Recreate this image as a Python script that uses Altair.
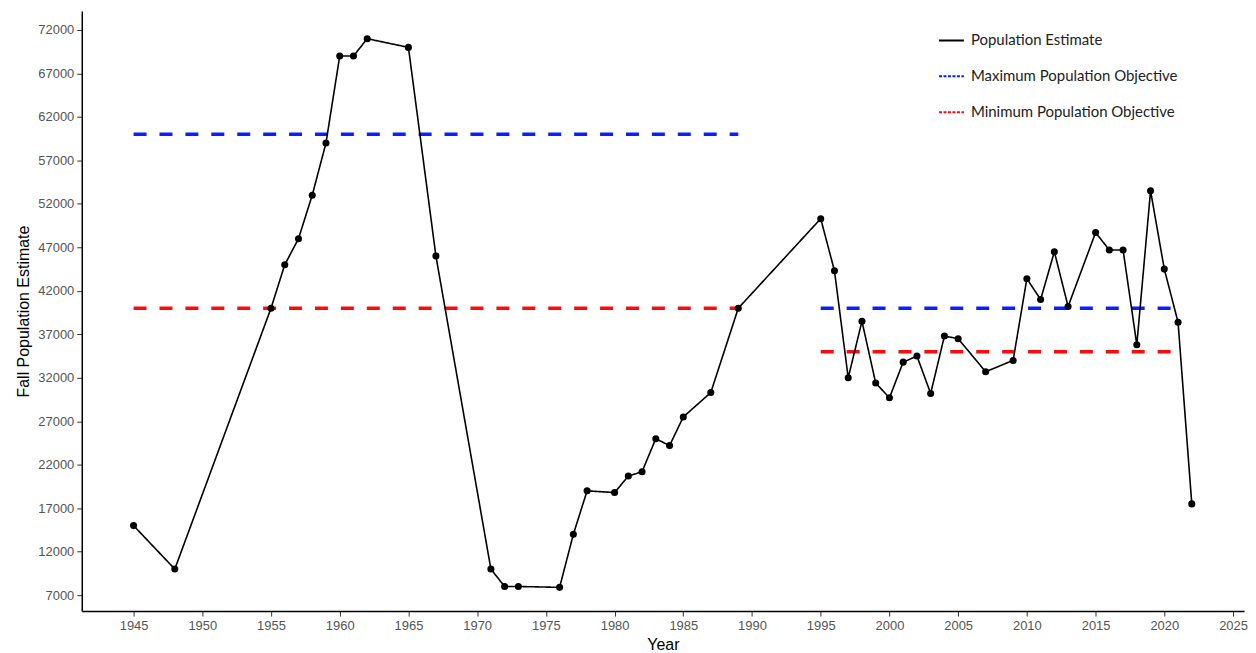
import altair as alt
import pandas as pd

years = [1945, 1948, 1955, 1956, 1957, 1958, 1959, 1960, 1961, 1962, 1965, 1967,
         1971, 1972, 1973, 1976, 1977, 1978, 1980, 1981, 1982, 1983, 1984, 1985,
         1987, 1989, 1995, 1996, 1997, 1998, 1999, 2000, 2001, 2002, 2003, 2004,
         2005, 2007, 2009, 2010, 2011, 2012, 2013, 2015, 2016, 2017, 2018, 2019,
         2020, 2021, 2022]
estimates = [15000, 10000, 40000, 45000, 48000, 53000, 59000, 69000, 69000, 71000, 70000, 46000,
             10000, 8000, 8000, 7900, 14000, 19000, 18800, 20700, 21200, 25000, 24200, 27500,
             30300, 40000, 50300, 44300, 32000, 38500, 31400, 29700, 33800, 34500, 30200, 36800,
             36500, 32700, 34000, 43400, 41000, 46500, 40200, 48700, 46700, 46700, 35800, 53500,
             44500, 38400, 17500]

series_names = ["Population Estimate", "Maximum Population Objective", "Minimum Population Objective"]
series_colors = ["#000000", "#0a1eff", "#ff0a0a"]

obj_series = ["Maximum Population Objective", "Maximum Population Objective",
              "Minimum Population Objective", "Minimum Population Objective"]
obj_start = [1945, 1995, 1945, 1995]
obj_end = [1989, 2021, 1989, 2021]
obj_value = [60000, 40000, 40000, 35000]

x_ticks = list(range(1945, 2026, 5))
y_ticks = list(range(7000, 72001, 5000))

pop = pd.DataFrame({"Year": years, "Estimate": estimates, "Series": "Population Estimate"})
obj = pd.DataFrame({"Series": obj_series, "Start": obj_start, "End": obj_end, "Value": obj_value})

FONT = "Liberation Sans"

x_scale = alt.Scale(domain=[1941.23, 2025.8], nice=False, zero=False)
y_scale = alt.Scale(domain=[5170, 74180], nice=False, zero=False)

x_axis = alt.Axis(values=x_ticks, format="d", title="Year", grid=False,
                  labelFont=FONT, labelFontSize=13, labelColor="#555555",
                  tickColor="#333333", tickSize=5, labelPadding=3,
                  domainColor="#000000", domainWidth=1.5,
                  titleFont=FONT, titleFontSize=16, titleFontWeight="normal",
                  titleColor="#000000", titlePadding=5)
y_axis = alt.Axis(values=y_ticks, format="d", title="Fall Population Estimate", grid=False,
                  labelFont=FONT, labelFontSize=13, labelColor="#555555",
                  tickColor="#333333", tickSize=5, labelPadding=3,
                  domainColor="#000000", domainWidth=1.5,
                  titleFont=FONT, titleFontSize=16, titleFontWeight="normal",
                  titleColor="#000000", titlePadding=6)

legend = alt.Legend(title=None, orient="none", legendX=859, legendY=16,
                    direction="vertical", symbolType="stroke", symbolSize=625,
                    symbolStrokeWidth=2, labelFont="Lato", labelFontSize=15,
                    labelColor="#222222", rowPadding=14, labelOffset=6, padding=0,
                    labelLimit=0)

color = alt.Color("Series:N", scale=alt.Scale(domain=series_names, range=series_colors),
                  legend=legend)

line = alt.Chart(pop).mark_line(strokeWidth=1.6).encode(
    x=alt.X("Year:Q", scale=x_scale, axis=x_axis),
    y=alt.Y("Estimate:Q", scale=y_scale, axis=y_axis),
    color=color,
    strokeDash=alt.StrokeDash("Series:N",
                              scale=alt.Scale(domain=series_names,
                                              range=[[1, 0], [3, 1.5], [3, 1.5]]),
                              legend=legend),
)

points = alt.Chart(pop).mark_circle(size=50, opacity=1, color="#000000").encode(
    x="Year:Q",
    y="Estimate:Q",
)

rules = alt.Chart(obj).mark_rule(strokeWidth=3.5, strokeDash=[13, 13]).encode(
    x="Start:Q",
    x2="End:Q",
    y="Value:Q",
    color=color,
)

chart = alt.layer(rules, line, points).properties(
    width=1166, height=602,
    padding={"left": 7, "top": 2, "right": 0, "bottom": 0},
).configure_view(stroke=None)

chart.save("out.html", embed_options={"renderer": "svg", "actions": False})
